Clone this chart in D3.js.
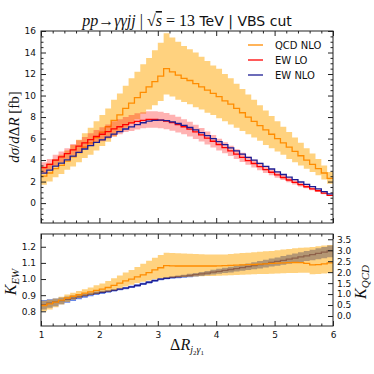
<!DOCTYPE html>
<html>
<head>
<meta charset="utf-8">
<script src="https://cdnjs.cloudflare.com/ajax/libs/d3/7.8.5/d3.min.js"></script>
<style>
  body { margin: 0; background: #fff; }
  svg { display: block; }
  .tick text { font-family: "DejaVu Sans", sans-serif; font-size: 9px; fill: #111; }
  .tick line { stroke: #222; }
  .domain { display: none; }
</style>
</head>
<body>
<script>
// bins of width 0.1 between 1 and 6 (50 bins), values per bin
var binEdges = d3.range(10, 61).map(function(d) { return d / 10; });

var qcdNlo = [2.5, 2.8, 3.2, 3.5, 3.9, 4.3, 4.7, 5.2, 5.6, 6.1,
  6.6, 7.1, 7.7, 8.2, 8.8, 9.3, 9.8, 10.3, 10.8, 11.3,
  11.8, 12.5, 12.2, 11.9, 11.6, 11.4, 11.1, 10.8, 10.5, 10.2,
  9.9, 9.5, 9.2, 8.8, 8.4, 8.0, 7.6, 7.2, 6.8, 6.4,
  6.0, 5.6, 5.2, 4.8, 4.4, 4.0, 3.6, 3.2, 2.8, 2.3];
var qcdNloHi = [3.4, 3.7, 4.1, 4.5, 4.9, 5.4, 5.9, 6.5, 7.0, 7.6,
  8.2, 8.8, 9.6, 10.2, 10.9, 11.6, 12.2, 12.9, 13.5, 14.2,
  14.9, 15.8, 15.4, 15.0, 14.6, 14.3, 14.0, 13.6, 13.2, 12.8,
  12.5, 12.0, 11.6, 11.1, 10.6, 10.1, 9.6, 9.1, 8.6, 8.1,
  7.6, 7.1, 6.6, 6.1, 5.6, 5.1, 4.6, 4.1, 3.5, 2.9];
var qcdNloLo = [1.7, 2.0, 2.4, 2.7, 3.1, 3.4, 3.8, 4.2, 4.5, 4.9,
  5.3, 5.7, 6.2, 6.6, 7.0, 7.4, 7.8, 8.3, 8.7, 9.1,
  9.5, 10.1, 9.9, 9.6, 9.4, 9.2, 8.9, 8.7, 8.4, 8.2,
  7.9, 7.6, 7.3, 7.0, 6.7, 6.4, 6.1, 5.8, 5.4, 5.1,
  4.8, 4.5, 4.1, 3.8, 3.5, 3.2, 2.9, 2.6, 2.2, 1.8];

var ewLo = [3.3, 3.6, 4.0, 4.3, 4.6, 4.95, 5.3, 5.6, 5.9, 6.2,
  6.4, 6.65, 6.9, 7.1, 7.3, 7.45, 7.6, 7.7, 7.78, 7.78,
  7.72, 7.62, 7.48, 7.3, 7.1, 6.88, 6.62, 6.35, 6.05, 5.75,
  5.45, 5.15, 4.85, 4.55, 4.25, 3.95, 3.68, 3.4, 3.12, 2.87,
  2.62, 2.38, 2.15, 1.93, 1.72, 1.52, 1.33, 1.15, 0.92, 0.72];
var ewLoHi = [3.8, 4.1, 4.5, 4.8, 5.1, 5.5, 5.85, 6.15, 6.5, 6.8,
  7.05, 7.3, 7.6, 7.8, 8.0, 8.2, 8.35, 8.45, 8.55, 8.55,
  8.5, 8.38, 8.22, 8.02, 7.8, 7.56, 7.28, 6.98, 6.65, 6.32,
  5.99, 5.66, 5.33, 5.0, 4.67, 4.34, 4.04, 3.74, 3.43, 3.15,
  2.88, 2.62, 2.36, 2.12, 1.89, 1.67, 1.46, 1.26, 1.01, 0.8];
var ewLoLo = [2.8, 3.1, 3.5, 3.8, 4.1, 4.45, 4.75, 5.05, 5.3, 5.6,
  5.75, 6.0, 6.2, 6.4, 6.6, 6.7, 6.85, 6.95, 7.0, 7.0,
  6.95, 6.86, 6.73, 6.57, 6.39, 6.19, 5.96, 5.72, 5.45, 5.18,
  4.9, 4.64, 4.37, 4.1, 3.83, 3.56, 3.31, 3.06, 2.81, 2.58,
  2.36, 2.14, 1.94, 1.74, 1.55, 1.37, 1.2, 1.04, 0.83, 0.65];

var ewNlo = [2.78, 3.06, 3.43, 3.72, 4.02, 4.37, 4.72, 5.03, 5.34, 5.65,
  5.88, 6.14, 6.42, 6.65, 6.89, 7.08, 7.30, 7.47, 7.62, 7.70,
  7.71, 7.66, 7.55, 7.40, 7.23, 7.03, 6.80, 6.55, 6.27, 6.00,
  5.71, 5.43, 5.14, 4.85, 4.55, 4.25, 3.99, 3.70, 3.42, 3.17,
  2.91, 2.66, 2.41, 2.18, 1.96, 1.74, 1.53, 1.33, 1.07, 0.85];

var kEw = [0.842, 0.85, 0.858, 0.866, 0.874, 0.882, 0.89, 0.898, 0.905, 0.912,
  0.918, 0.924, 0.93, 0.937, 0.944, 0.951, 0.96, 0.97, 0.98, 0.99,
  0.999, 1.005, 1.01, 1.014, 1.018, 1.022, 1.027, 1.032, 1.037, 1.043,
  1.048, 1.054, 1.059, 1.065, 1.071, 1.077, 1.083, 1.089, 1.096, 1.103,
  1.109, 1.116, 1.123, 1.13, 1.137, 1.144, 1.151, 1.159, 1.167, 1.175];
var kEwHi = [0.87, 0.875, 0.88, 0.886, 0.892, 0.898, 0.904, 0.91, 0.916, 0.922,
  0.927, 0.932, 0.938, 0.944, 0.951, 0.958, 0.967, 0.977, 0.987, 0.997,
  1.006, 1.012, 1.017, 1.022, 1.027, 1.032, 1.038, 1.044, 1.05, 1.057,
  1.063, 1.07, 1.076, 1.083, 1.09, 1.097, 1.104, 1.111, 1.119, 1.127,
  1.134, 1.142, 1.15, 1.158, 1.166, 1.174, 1.182, 1.19, 1.199, 1.208];
var kEwLo = [0.812, 0.822, 0.832, 0.843, 0.853, 0.864, 0.874, 0.884, 0.893, 0.901,
  0.908, 0.915, 0.922, 0.93, 0.937, 0.944, 0.953, 0.963, 0.973, 0.983,
  0.992, 0.998, 1.002, 1.005, 1.008, 1.011, 1.015, 1.019, 1.023, 1.028,
  1.032, 1.037, 1.041, 1.046, 1.051, 1.056, 1.061, 1.066, 1.072, 1.078,
  1.083, 1.089, 1.095, 1.1, 1.106, 1.112, 1.117, 1.123, 1.129, 1.135];

var kQcd = [0.48, 0.55, 0.63, 0.72, 0.82, 0.9, 0.97, 1.04, 1.1, 1.17,
  1.23, 1.3, 1.4, 1.5, 1.6, 1.68, 1.78, 1.88, 1.98, 2.1,
  2.2, 2.3, 2.29, 2.28, 2.28, 2.28, 2.28, 2.28, 2.28, 2.28,
  2.29, 2.3, 2.31, 2.32, 2.33, 2.34, 2.35, 2.37, 2.38, 2.4,
  2.41, 2.42, 2.43, 2.44, 2.43, 2.4, 2.33, 2.34, 2.38, 2.42];
var kQcdHi = [0.7, 0.74, 0.8, 0.88, 0.98, 1.06, 1.14, 1.22, 1.3, 1.4,
  1.48, 1.6, 1.72, 1.85, 1.98, 2.1, 2.24, 2.38, 2.52, 2.66,
  2.78, 2.88, 2.87, 2.86, 2.85, 2.84, 2.83, 2.82, 2.81, 2.8,
  2.8, 2.81, 2.83, 2.85, 2.87, 2.89, 2.91, 2.93, 2.95, 2.97,
  3.0, 3.03, 3.06, 3.09, 3.11, 3.13, 3.15, 3.18, 3.21, 3.24];
var kQcdLo = [0.22, 0.3, 0.4, 0.52, 0.64, 0.74, 0.82, 0.9, 0.96, 1.02,
  1.08, 1.12, 1.18, 1.26, 1.34, 1.42, 1.5, 1.56, 1.62, 1.68,
  1.72, 1.75, 1.76, 1.77, 1.78, 1.79, 1.8, 1.81, 1.82, 1.83,
  1.84, 1.85, 1.86, 1.87, 1.88, 1.89, 1.9, 1.91, 1.92, 1.93,
  1.94, 1.95, 1.96, 1.96, 1.97, 1.97, 1.9, 1.92, 1.94, 1.96];

var topTicks = [0, 2, 4, 6, 8, 10, 12, 14, 16];
var xTicks = [1, 2, 3, 4, 5, 6];
var kEwTicks = [0.8, 0.9, 1.0, 1.1, 1.2];
var kQcdTicks = [0.0, 0.5, 1.0, 1.5, 2.0, 2.5, 3.0, 3.5];
var legendNames = ["QCD NLO", "EW LO", "EW NLO"];

var W = 374, H = 374;
var L = 41, R = 333;
var topP = { y0: 31, y1: 223 };
var botP = { y0: 234, y1: 326 };

var C_ORANGE = "#ff8c00", C_ORANGE_F = "rgba(255,165,0,0.5)";
var C_RED = "#ff0000", C_RED_F = "rgba(255,0,0,0.3)";
var C_BLUE = "#1c1c94", C_BLUE_F = "rgba(65,105,225,0.8)";

var svg = d3.select("body").append("svg")
  .attr("width", W).attr("height", H);

var x = d3.scaleLinear().domain([1, 6]).range([L, R]);
var yTop = d3.scaleLinear().domain([-1.85, 16]).range([topP.y1, topP.y0]);
var yEw = d3.scaleLinear().domain([0.709, 1.279]).range([botP.y1, botP.y0]);
var yQcd = d3.scaleLinear().domain([-0.456, 3.74]).range([botP.y1, botP.y0]);

// step series: point at each lower edge, plus the last edge
function steps(vals) {
  var pts = vals.map(function(v, i) { return [binEdges[i], v]; });
  pts.push([binEdges[vals.length], vals[vals.length - 1]]);
  return pts;
}
function bandPts(lo, hi) {
  var pts = lo.map(function(v, i) { return [binEdges[i], v, hi[i]]; });
  pts.push([binEdges[lo.length], lo[lo.length - 1], hi[hi.length - 1]]);
  return pts;
}

function drawBand(g, ys, lo, hi, fill) {
  var area = d3.area().curve(d3.curveStepAfter)
    .x(function(d) { return x(d[0]); })
    .y0(function(d) { return ys(d[1]); })
    .y1(function(d) { return ys(d[2]); });
  g.append("path").datum(bandPts(lo, hi))
    .attr("d", area).attr("fill", fill).attr("stroke", "none");
}
function drawLine(g, ys, vals, color) {
  var line = d3.line().curve(d3.curveStepAfter)
    .x(function(d) { return x(d[0]); })
    .y(function(d) { return ys(d[1]); });
  g.append("path").datum(steps(vals))
    .attr("d", line).attr("fill", "none")
    .attr("stroke", color).attr("stroke-width", 1.3);
}

// clip
var defs = svg.append("defs");
defs.append("clipPath").attr("id", "clipTop").append("rect")
  .attr("x", L).attr("y", topP.y0).attr("width", R - L).attr("height", topP.y1 - topP.y0);
defs.append("clipPath").attr("id", "clipBot").append("rect")
  .attr("x", L).attr("y", botP.y0).attr("width", R - L).attr("height", botP.y1 - botP.y0);

// ---- top panel
var gTop = svg.append("g").attr("clip-path", "url(#clipTop)");
drawBand(gTop, yTop, qcdNloLo, qcdNloHi, C_ORANGE_F);
drawLine(gTop, yTop, qcdNlo, C_ORANGE);
drawBand(gTop, yTop, ewLoLo, ewLoHi, C_RED_F);
drawLine(gTop, yTop, ewLo, C_RED);
drawLine(gTop, yTop, ewNlo, C_BLUE);

// ---- bottom panel
var gBot = svg.append("g").attr("clip-path", "url(#clipBot)");
drawBand(gBot, yEw, kEwLo, kEwHi, C_BLUE_F);
drawLine(gBot, yEw, kEw, C_BLUE);
drawBand(gBot, yQcd, kQcdLo, kQcdHi, C_ORANGE_F);
drawLine(gBot, yQcd, kQcd, C_ORANGE);

// ---- axes
function minorVals(a, b, step, majors) {
  var out = [];
  for (var i = 0; a + i * step <= b + 1e-9; i++) {
    var v = Math.round((a + i * step) * 1000) / 1000;
    if (majors.indexOf(v) < 0) out.push(v);
  }
  return out;
}
var xMinor = minorVals(1, 6, 0.2, xTicks);

function frameAxes(p, yScale, yMaj, yMin, yFmt, showX) {
  // bottom
  svg.append("g").attr("transform", "translate(0," + p.y1 + ")")
    .call(d3.axisBottom(x).tickValues(xTicks).tickSize(-5).tickPadding(6)
      .tickFormat(showX ? d3.format("d") : ""));
  svg.append("g").attr("transform", "translate(0," + p.y1 + ")")
    .call(d3.axisBottom(x).tickValues(xMinor).tickSize(-2.5).tickFormat(""));
  // top
  svg.append("g").attr("transform", "translate(0," + p.y0 + ")")
    .call(d3.axisTop(x).tickValues(xTicks).tickSize(-5).tickFormat(""));
  svg.append("g").attr("transform", "translate(0," + p.y0 + ")")
    .call(d3.axisTop(x).tickValues(xMinor).tickSize(-2.5).tickFormat(""));
  // left
  svg.append("g").attr("transform", "translate(" + L + ",0)")
    .call(d3.axisLeft(yScale).tickValues(yMaj).tickSize(-5).tickPadding(5).tickFormat(yFmt));
  if (yMin.length) {
    svg.append("g").attr("transform", "translate(" + L + ",0)")
      .call(d3.axisLeft(yScale).tickValues(yMin).tickSize(-2.5).tickFormat(""));
  }
  svg.append("rect").attr("x", L).attr("y", p.y0)
    .attr("width", R - L).attr("height", p.y1 - p.y0)
    .attr("fill", "none").attr("stroke", "#222").attr("stroke-width", 1);
}

var topMinor = minorVals(-1.5, 15.5, 0.5, topTicks);
frameAxes(topP, yTop, topTicks, topMinor, d3.format("d"), false);
// right ticks top panel (no labels)
svg.append("g").attr("transform", "translate(" + R + ",0)")
  .call(d3.axisRight(yTop).tickValues(topTicks).tickSize(-5).tickFormat(""));
svg.append("g").attr("transform", "translate(" + R + ",0)")
  .call(d3.axisRight(yTop).tickValues(topMinor).tickSize(-2.5).tickFormat(""));

frameAxes(botP, yEw, kEwTicks, [], d3.format(".1f"), true);
svg.append("g").attr("transform", "translate(" + R + ",0)")
  .call(d3.axisRight(yQcd).tickValues(kQcdTicks).tickSize(-5).tickPadding(4)
    .tickFormat(d3.format(".1f")));

// ---- legend
var legColors = [C_ORANGE, C_RED, C_BLUE];
legendNames.forEach(function(name, i) {
  var ly = 45 + i * 15;
  svg.append("line").attr("x1", 248).attr("x2", 263).attr("y1", ly).attr("y2", ly)
    .attr("stroke", legColors[i]).attr("stroke-width", 1.3);
  svg.append("text").attr("x", 275).attr("y", ly + 3.6)
    .attr("font-family", "DejaVu Sans").attr("font-size", 10).attr("fill", "#111")
    .text(name);
});

// ---- titles & labels
var SERIF = "'Liberation Serif', 'DejaVu Serif', serif";
var SANS = "'DejaVu Sans', sans-serif";

var title = svg.append("text").attr("x", 187).attr("y", 26)
  .attr("text-anchor", "middle").attr("font-size", 15).attr("fill", "#111");
title.append("tspan").attr("font-family", SERIF).attr("font-style", "italic").attr("font-size", 16).text("pp");
title.append("tspan").attr("font-family", SERIF).attr("font-size", 16).text("\u2192");
title.append("tspan").attr("font-family", SERIF).attr("font-style", "italic").attr("font-size", 16).text("\u03b3\u03b3jj");
title.append("tspan").attr("font-family", SERIF).attr("font-size", 16).text(" | \u221a");
title.append("tspan").attr("font-family", SERIF).attr("font-style", "italic").attr("font-size", 16)
  .attr("text-decoration", "overline").text("s");
title.append("tspan").attr("font-family", SERIF).attr("font-size", 16).text(" = 13");
title.append("tspan").attr("font-family", SANS).attr("font-size", 14).text(" TeV | VBS cut");

var yl = svg.append("text").attr("transform", "translate(19,127) rotate(-90)")
  .attr("text-anchor", "middle").attr("font-family", SERIF).attr("font-size", 15).attr("fill", "#111");
yl.append("tspan").attr("font-style", "italic").text("d\u03c3");
yl.append("tspan").text("/");
yl.append("tspan").attr("font-style", "italic").text("d");
yl.append("tspan").text("\u0394");
yl.append("tspan").attr("font-style", "italic").text("R");
yl.append("tspan").text(" [fb]");

var kl = svg.append("text").attr("transform", "translate(16,282) rotate(-90)")
  .attr("text-anchor", "middle").attr("font-family", SERIF).attr("font-size", 16).attr("fill", "#111");
kl.append("tspan").attr("font-style", "italic").text("K");
kl.append("tspan").attr("font-style", "italic").attr("font-size", 11).attr("dy", 3).text("EW");

var kr = svg.append("text").attr("transform", "translate(366,282) rotate(-90)")
  .attr("text-anchor", "middle").attr("font-family", SERIF).attr("font-size", 16).attr("fill", "#111");
kr.append("tspan").attr("font-style", "italic").text("K");
kr.append("tspan").attr("font-style", "italic").attr("font-size", 11).attr("dy", 3).text("QCD");

var xl = svg.append("text").attr("x", 187).attr("y", 350)
  .attr("text-anchor", "middle").attr("font-family", SERIF).attr("font-size", 16).attr("fill", "#111");
xl.append("tspan").text("\u0394");
xl.append("tspan").attr("font-style", "italic").text("R");
xl.append("tspan").attr("font-style", "italic").attr("font-size", 10).attr("dy", 3).text("j");
xl.append("tspan").attr("font-size", 7).attr("dy", 2).text("2");
xl.append("tspan").attr("font-style", "italic").attr("font-size", 10).attr("dy", -2).text("\u03b3");
xl.append("tspan").attr("font-size", 7).attr("dy", 2).text("1");
</script>
</body>
</html>
